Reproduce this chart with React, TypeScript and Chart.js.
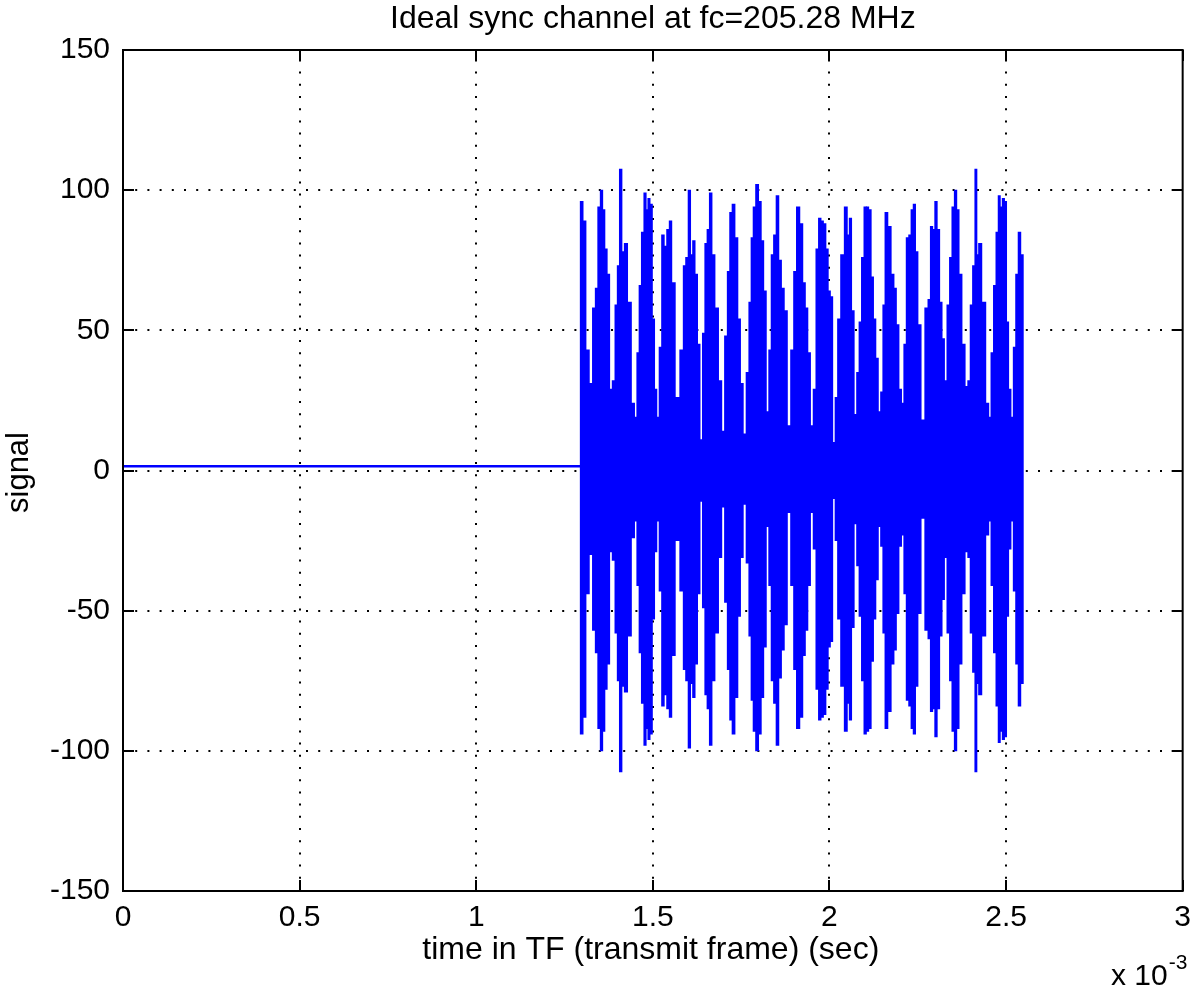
import React, { useEffect, useRef } from "react";
import { Chart, registerables } from "chart.js";

Chart.register(...registerables);

const TITLE = "Ideal sync channel at fc=205.28 MHz";
const X_LABEL = "time in TF (transmit frame) (sec)";
const Y_LABEL = "signal";
const X_MULT = "x 10";
const X_EXP = "-3";

const X_TICKS = [0, 0.5, 1, 1.5, 2, 2.5, 3];
const Y_TICKS = [-150, -100, -50, 0, 50, 100, 150];

// idle part of the frame (time in units of 1e-3 s)
const idleTimes = [0, 1.2953];
const idleValues = [1.5, 1.5];

// sync burst: start time of each held sample (units of 1e-3 s); last entry = end of burst
const burstTimes = [
  1.2953, 1.3018, 1.3103, 1.3197, 1.33, 1.3375, 1.3441, 1.3516, 1.3582, 1.3638,
  1.3704, 1.3779, 1.3845, 1.3939, 1.3995, 1.4051, 1.4126, 1.4192, 1.4267, 1.4408,
  1.4483, 1.4549, 1.4615, 1.4671, 1.4755, 1.4812, 1.4859, 1.4915, 1.499, 1.5046,
  1.5112, 1.5178, 1.5253, 1.5319, 1.5394, 1.5469, 1.5535, 1.56, 1.5798, 1.5863,
  1.5929, 1.6004, 1.607, 1.6126, 1.6192, 1.6267, 1.6333, 1.6408, 1.6474, 1.6539,
  1.6596, 1.668, 1.6737, 1.6877, 1.6943, 1.7037, 1.7112, 1.7178, 1.7244, 1.7319,
  1.7413, 1.7478, 1.7554, 1.7647, 1.7723, 1.7788, 1.7835, 1.791, 1.7995, 1.807,
  1.8136, 1.8211, 1.8286, 1.8352, 1.8417, 1.8492, 1.8568, 1.8633, 1.8727, 1.8793,
  1.8915, 1.899, 1.9056,
  1.9169, 1.9244, 1.9319, 1.9385, 1.946, 1.9544, 1.9619, 1.9694, 1.976, 1.9826,
  1.9901, 1.9967, 2.0023, 2.0089, 2.0164, 2.023, 2.0305, 2.0436, 2.0511, 2.0558,
  2.0624, 2.0699, 2.0774, 2.084, 2.0906, 2.0981, 2.1047, 2.1103, 2.1187, 2.1244,
  2.131, 2.1385, 2.145, 2.1516, 2.1572, 2.1638, 2.176, 2.1826, 2.1892, 2.1967,
  2.2042, 2.2108, 2.2173, 2.2248, 2.2314, 2.2371, 2.2436, 2.2502, 2.2577, 2.2718,
  2.2793, 2.2859, 2.2925, 2.2981, 2.3047, 2.3122, 2.3187, 2.3253, 2.3328, 2.3403,
  2.3469, 2.3535, 2.361, 2.3657, 2.3751, 2.3845, 2.392, 2.3986, 2.4051, 2.4126,
  2.4173, 2.422, 2.4286, 2.4455, 2.4502, 2.4577, 2.4643, 2.4718, 2.4784, 2.4831,
  2.4896, 2.4953, 2.5018, 2.5065, 2.5141, 2.5206, 2.5272, 2.5347, 2.5413,
  2.5488,
];

// upper envelope of the carrier oscillation during each held sample
const upperEnvelope = [
  96, 89, 43, 31, 58, 65, 94, 100, 93, 79,
  70, 29, 32, 59, 73, 107.5, 78, 81, 60, 24,
  19, 42, 66, 85, 99, 93, 97, 95, 54, 29,
  19, 44, 84, 80, 86, 89, 67, 26, 43, 73,
  76, 100, 77, 82, 70, 45, 11, 49, 81, 86,
  99, 77, 58, 32, 14, 48, 71, 92, 95, 83,
  54, 31, 13, 35, 60, 83, 94, 102, 96, 82,
  64, 21, 43, 77, 84, 98, 75, 65, 57, 16,
  43, 71, 94,
  88, 67, 58, 42, 16, 29, 79, 90, 89, 88,
  79, 64, 62, 10, 26, 54, 77, 94, 84, 90,
  57, 20, 35, 53, 76, 94, 94, 93, 69, 54,
  40, 21, 28, 59, 92, 87, 70, 65, 52, 29,
  24, 45, 83, 84, 93, 95, 78, 52, 18, 58,
  61, 87, 86, 96, 86, 60, 47, 32, 59, 76,
  94, 100, 93, 70, 45, 30, 32, 59, 73, 107.5,
  77, 81, 60, 24, 19, 42, 66, 85, 98, 94,
  97, 96, 53, 29, 19, 44, 70, 85, 77,
];

// lower envelope of the carrier oscillation during each held sample
const lowerEnvelope = [
  -94, -88, -44, -30, -57, -65, -92, -100, -93, -78,
  -69, -29, -32, -58, -75, -107.5, -77, -79, -59, -24,
  -18, -41, -65, -83, -98, -92, -96, -94, -53, -29,
  -18, -43, -84, -80, -85, -88, -66, -25, -43, -71,
  -75, -99, -76, -81, -69, -44, -11, -49, -80, -85,
  -98, -75, -58, -31, -13, -47, -71, -89, -94, -81,
  -52, -31, -12, -33, -59, -82, -93, -100, -94, -81,
  -63, -20, -41, -75, -83, -98, -74, -64, -55, -15,
  -41, -71, -92,
  -88, -66, -57, -41, -15, -28, -78, -89, -88, -87,
  -78, -63, -61, -10, -25, -53, -77, -93, -83, -89,
  -56, -19, -34, -52, -75, -94, -93, -92, -68, -53,
  -39, -20, -27, -58, -92, -86, -69, -64, -51, -27,
  -23, -44, -82, -84, -92, -94, -77, -51, -17, -57,
  -60, -86, -85, -95, -85, -59, -46, -31, -58, -75,
  -93, -100, -92, -69, -44, -29, -31, -58, -72, -107.5,
  -76, -80, -59, -23, -18, -41, -65, -84, -97, -93,
  -96, -95, -52, -28, -18, -43, -69, -84, -76,
];

const FONT_FAMILY = '"Liberation Sans", Arial, Helvetica, sans-serif';
const BLUE = "#0000ff";

// each held sample spans [start, next start]: drawn as a floating bar lower..upper
const burstBars = upperEnvelope.map((u, i) => ({
  x: (burstTimes[i] + burstTimes[i + 1]) / 2,
  y: [lowerEnvelope[i], u],
}));

const matlabFrame = {
  id: "matlabFrame",
  beforeDatasetsDraw(chart: any) {
    const { ctx, chartArea: a, scales } = chart;
    const x = scales.x;
    const y = scales.y;
    ctx.save();
    ctx.strokeStyle = "#000";
    ctx.lineWidth = 2;
    ctx.setLineDash([2, 10.2]);
    X_TICKS.forEach((v) => {
      if (v === x.min || v === x.max) return;
      const px = Math.round(x.getPixelForValue(v));
      ctx.beginPath();
      ctx.moveTo(px, a.bottom);
      ctx.lineTo(px, a.top);
      ctx.stroke();
    });
    Y_TICKS.forEach((v) => {
      if (v === y.min || v === y.max) return;
      const py = Math.round(y.getPixelForValue(v));
      ctx.beginPath();
      ctx.moveTo(a.left, py);
      ctx.lineTo(a.right, py);
      ctx.stroke();
    });
    ctx.restore();
  },
  afterDraw(chart: any) {
    const { ctx, chartArea: a, scales } = chart;
    const x = scales.x;
    const y = scales.y;
    ctx.save();
    ctx.strokeStyle = "#000";
    ctx.lineWidth = 2;
    ctx.setLineDash([]);
    ctx.strokeRect(a.left, a.top, a.right - a.left, a.bottom - a.top);
    const tl = 11;
    ctx.beginPath();
    X_TICKS.forEach((v) => {
      const px = Math.round(x.getPixelForValue(v));
      ctx.moveTo(px, a.bottom);
      ctx.lineTo(px, a.bottom - tl);
      ctx.moveTo(px, a.top);
      ctx.lineTo(px, a.top + tl);
    });
    Y_TICKS.forEach((v) => {
      const py = Math.round(y.getPixelForValue(v));
      ctx.moveTo(a.left, py);
      ctx.lineTo(a.left + tl, py);
      ctx.moveTo(a.right, py);
      ctx.lineTo(a.right - tl, py);
    });
    ctx.stroke();

    ctx.fillStyle = "#000";
    ctx.textBaseline = "alphabetic";
    const cx = (a.left + a.right) / 2;
    ctx.font = `32px ${FONT_FAMILY}`;
    ctx.textAlign = "center";
    ctx.fillText(TITLE, cx, 28);

    ctx.font = `32px ${FONT_FAMILY}`;
    ctx.fillText(X_LABEL, cx - 2, 959);

    ctx.font = `31px ${FONT_FAMILY}`;
    ctx.save();
    ctx.translate(28, (a.top + a.bottom) / 2 + 2);
    ctx.rotate(-Math.PI / 2);
    ctx.fillText(Y_LABEL, 0, 0);
    ctx.restore();

    ctx.textAlign = "left";
    ctx.font = `30px ${FONT_FAMILY}`;
    ctx.fillText(X_MULT, 1111, 985);
    const w = ctx.measureText(X_MULT).width;
    ctx.font = `21px ${FONT_FAMILY}`;
    ctx.fillText(X_EXP, 1111 + w + 1, 969);
    ctx.restore();
  },
};

export default function App() {
  const ref = useRef<HTMLCanvasElement>(null);

  useEffect(() => {
    if (!ref.current) return;
    const tickFont = { family: FONT_FAMILY, size: 30 };
    const chart = new Chart(ref.current, {
      type: "line",
      data: {
        datasets: [
          {
            type: "line",
            label: "idle",
            data: idleTimes.map((t, i) => ({ x: t, y: idleValues[i] })),
            borderColor: BLUE,
            borderWidth: 2.5,
            pointRadius: 0,
            fill: false,
          },
          {
            type: "bar",
            label: "sync burst",
            data: burstBars,
            backgroundColor: BLUE,
            borderColor: BLUE,
            borderWidth: 0,
            barThickness: "flex",
            categoryPercentage: 1,
            barPercentage: 1,
            inflateAmount: 0.5,
          },
        ],
      },
      options: {
        animation: false,
        responsive: false,
        devicePixelRatio: 1,
        layout: { padding: { top: 50, right: 12, left: 0, bottom: 0 } },
        plugins: {
          legend: { display: false },
          tooltip: { enabled: false },
          title: { display: false },
        },
        scales: {
          x: {
            type: "linear",
            min: 0,
            max: 3,
            offset: false,
            afterBuildTicks: (s: any) => {
              s.ticks = X_TICKS.map((v) => ({ value: v }));
            },
            afterFit: (s: any) => {
              s.height = 99;
            },
            grid: { display: false, drawTicks: false, offset: false },
            border: { display: false },
            ticks: {
              font: tickFont,
              color: "#000",
              padding: 9,
              maxRotation: 0,
              autoSkip: false,
              callback: (v: any) => String(v),
            },
          },
          y: {
            type: "linear",
            min: -150,
            max: 150,
            afterBuildTicks: (s: any) => {
              s.ticks = Y_TICKS.map((v) => ({ value: v }));
            },
            afterFit: (s: any) => {
              s.width = 123;
            },
            grid: { display: false, drawTicks: false },
            border: { display: false },
            ticks: {
              font: tickFont,
              color: "#000",
              padding: 13,
              autoSkip: false,
              callback: (v: any) => String(v),
            },
          },
        },
      },
      plugins: [matlabFrame],
    } as any);
    return () => chart.destroy();
  }, []);

  return (
    <div
      style={{
        position: "absolute",
        left: 0,
        top: 0,
        width: 1200,
        height: 990,
        background: "#fff",
      }}
    >
      <canvas
        ref={ref}
        width={1200}
        height={990}
        style={{ display: "block", width: 1200, height: 990 }}
      />
    </div>
  );
}
